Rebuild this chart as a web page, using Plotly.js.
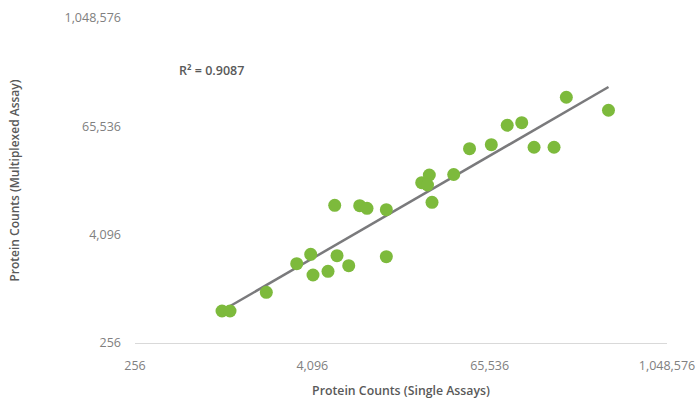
<!DOCTYPE html>
<html>
<head>
<meta charset="utf-8">
<script src="https://cdn.plot.ly/plotly-3.0.1.min.js"></script>
<style>html,body{margin:0;padding:0;background:#fff;}#chart{width:698px;height:400px;}</style>
</head>
<body>
<div id="chart"></div>
<script>
// Protein counts: single assays (x) vs multiplexed assay (y)
var singleAssay = [998, 1131, 1995, 3209, 3992, 4139, 5234, 6025, 7236, 5812, 8593, 9630, 13025, 13025,
  22650, 25510, 24800, 26600, 37350, 47840, 67240, 86240, 108200, 131200, 179300, 217300, 420000];
var multiplexAssay = [581, 581, 937, 1948, 2478, 1459, 1604, 2392, 1852, 8689, 8600, 8045, 7762, 2331,
  15490, 18870, 14610, 9384, 19110, 37000, 40990, 67340, 71970, 38350, 38350, 137900, 98850];
var tickValues = [256, 4096, 65536, 1048576];
var tickLabels = ["256", "4,096", "65,536", "1,048,576"];
var rSquaredLabel = "R² = 0.9087";

// power trendline (least squares in log space)
var lx = singleAssay.map(function(v){return Math.log10(v);});
var ly = multiplexAssay.map(function(v){return Math.log10(v);});
var n = lx.length, mx = 0, my = 0;
for (var i = 0; i < n; i++) { mx += lx[i]; my += ly[i]; }
mx /= n; my /= n;
var sxy = 0, sxx = 0;
for (var i = 0; i < n; i++) { sxy += (lx[i]-mx)*(ly[i]-my); sxx += (lx[i]-mx)*(lx[i]-mx); }
var slope = sxy / sxx, intercept = my - slope * mx;
var xmin = Math.min.apply(null, singleAssay), xmax = Math.max.apply(null, singleAssay);
var trendX = [xmin, xmax];
var trendY = trendX.map(function(v){return Math.pow(10, intercept + slope*Math.log10(v));});

var font = "'Open Sans', sans-serif";
var data = [
  {x: trendX, y: trendY, type: 'scatter', mode: 'lines',
   line: {color: '#7a7a7c', width: 2.5}, hoverinfo: 'skip', showlegend: false},
  {x: singleAssay, y: multiplexAssay, type: 'scatter', mode: 'markers',
   marker: {color: '#7dba3c', size: 13, line: {width: 0}}, showlegend: false}
];
var axisCommon = {
  type: 'log',
  range: [Math.log10(256), Math.log10(1048576)],
  tickmode: 'array', tickvals: tickValues, ticktext: tickLabels,
  showgrid: false, zeroline: false, ticks: '',
  tickfont: {family: font, size: 12.5, color: '#808080'},
  fixedrange: true
};
var layout = {
  width: 698, height: 400,
  margin: {l: 135, r: 31, t: 18, b: 57},
  paper_bgcolor: '#fff', plot_bgcolor: '#fff',
  font: {family: font},
  xaxis: Object.assign({}, axisCommon, {
    showline: true, linecolor: '#d9d9d9', linewidth: 1.2,
    ticklabelstandoff: 11,
    title: {text: 'Protein Counts (Single Assays)', font: {family: font, size: 12.3, color: '#595959', weight: 600}, standoff: 13}
  }),
  yaxis: Object.assign({}, axisCommon, {
    showline: false,
    ticklabelstandoff: 13,
    title: {text: 'Protein Counts (Multiplexed Assay)', font: {family: font, size: 12, color: '#595959', weight: 600}, standoff: 42}
  }),
  annotations: [{
    xref: 'paper', yref: 'paper', x: 0.079, y: 0.84, xanchor: 'left', yanchor: 'middle',
    text: rSquaredLabel, showarrow: false,
    font: {family: font, size: 12.5, color: '#595959', weight: 600}
  }]
};
Plotly.newPlot('chart', data, layout, {displayModeBar: false, staticPlot: true});
</script>
</body>
</html>
